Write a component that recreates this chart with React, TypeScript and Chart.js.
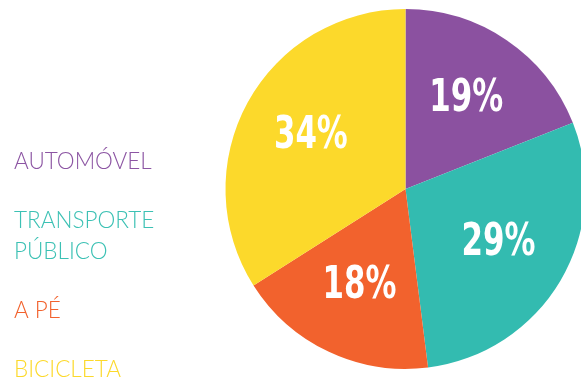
import React, { useEffect, useRef } from "react";
import { Chart, registerables } from "chart.js";

Chart.register(...registerables);

const categories = ["AUTOMÓVEL", "TRANSPORTE\nPÚBLICO", "A PÉ", "BICICLETA"];
const values = [19, 29, 18, 34];
const sliceColors = ["#8B51A0", "#33BBB0", "#F2622D", "#FCD92B"];
const labelColors = ["#8C55A3", "#3CC1B4", "#F2622D", "#FCD92B"];

const sideLegend = {
  id: "sideLegend",
  afterDraw(chart: any) {
    const ctx = chart.ctx;
    ctx.save();
    ctx.font = "300 22.5px Lato, 'DejaVu Sans', sans-serif";
    ctx.textBaseline = "alphabetic";
    ctx.textAlign = "left";
    let y = 169;
    categories.forEach((c, i) => {
      const lines = c.split("\n");
      ctx.fillStyle = labelColors[i];
      lines.forEach((ln, j) => {
        ctx.fillText(ln, 14, y);
        if (j < lines.length - 1) y += 31;
      });
      y += 59;
    });
    ctx.restore();
  },
};

const pctLabels = {
  id: "pctLabels",
  afterDatasetsDraw(chart: any) {
    const ctx = chart.ctx;
    const meta = chart.getDatasetMeta(0);
    meta.data.forEach((arc: any, i: number) => {
      const p = arc.getProps(["x", "y", "startAngle", "endAngle", "outerRadius"], true);
      const mid = (p.startAngle + p.endAngle) / 2;
      const d = p.outerRadius * 0.6;
      const x = p.x + Math.cos(mid) * d;
      const y = p.y + Math.sin(mid) * d;
      ctx.save();
      ctx.font = "bold 44px 'DejaVu Sans Condensed', 'Liberation Sans', sans-serif";
      ctx.fillStyle = "#FFFFFF";
      ctx.textAlign = "center";
      ctx.textBaseline = "middle";
      ctx.translate(x, y);
      ctx.scale(0.78, 1);
      ctx.fillText(values[i] + "%", 0, 0);
      ctx.restore();
    });
  },
};

export default function App() {
  const ref = useRef<HTMLCanvasElement>(null);
  useEffect(() => {
    if (!ref.current) return;
    const chart = new Chart(ref.current, {
      type: "pie",
      data: {
        labels: categories,
        datasets: [
          {
            data: values,
            backgroundColor: sliceColors,
            borderWidth: 0,
            clip: false as any,
          },
        ],
      },
      options: {
        responsive: false,
        animation: false,
        radius: 180,
        layout: { padding: { left: 230, right: 0, top: 0, bottom: 3 } },
        plugins: {
          legend: { display: false },
          tooltip: { enabled: false },
        },
      } as any,
      plugins: [sideLegend, pctLabels],
    });
    return () => chart.destroy();
  }, []);
  return (
    <div style={{ position: "absolute", left: 0, top: 0, width: 581, height: 381, overflow: "hidden", background: "#fff" }}>
      <canvas ref={ref} width={581} height={381} style={{ display: "block" }} />
    </div>
  );
}
